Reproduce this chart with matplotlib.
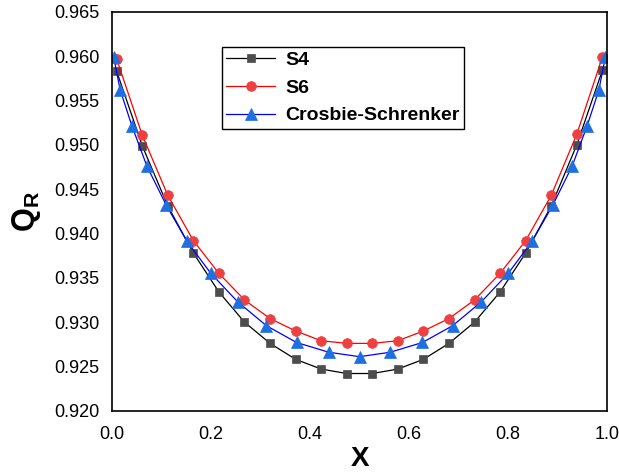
import matplotlib
matplotlib.use("Agg")
import matplotlib.pyplot as plt
import numpy as np

plt.rcParams['font.family'] = ['Liberation Sans', 'DejaVu Sans']
plt.rcParams['mathtext.fontset'] = 'custom'
plt.rcParams['mathtext.rm'] = 'Liberation Sans'
plt.rcParams['mathtext.bf'] = 'Liberation Sans:bold'

# S4 and S6 positions (20 points)
x_s = [0.010, 0.0616, 0.1132, 0.1647, 0.2163, 0.2679, 0.3195, 0.3711, 0.4226, 0.4742,
       0.5258, 0.5774, 0.6289, 0.6805, 0.7321, 0.7837, 0.8353, 0.8868, 0.9384, 0.990]
s4 = [0.9583, 0.9499, 0.9431, 0.9378, 0.9334, 0.9300, 0.9276, 0.9258, 0.9247, 0.9242,
      0.9242, 0.9247, 0.9258, 0.9276, 0.9300, 0.9334, 0.9378, 0.9431, 0.9500, 0.9584]
s6 = [0.9597, 0.9511, 0.9443, 0.9392, 0.9355, 0.9325, 0.9304, 0.9290, 0.9279, 0.9276,
      0.9276, 0.9279, 0.9290, 0.9304, 0.9325, 0.9355, 0.9392, 0.9443, 0.9512, 0.9599]
# Crosbie-Schrenker (23 points)
x_cs = [0.004, 0.017, 0.041, 0.071, 0.110, 0.152, 0.200, 0.254, 0.312, 0.373, 0.438, 0.500,
        0.562, 0.627, 0.688, 0.746, 0.800, 0.848, 0.890, 0.929, 0.959, 0.983, 0.996]
cs = [0.9599, 0.9562, 0.9521, 0.9476, 0.9432, 0.9391, 0.9355, 0.9323, 0.9296, 0.9277, 0.9266, 0.9261,
      0.9266, 0.9277, 0.9296, 0.9323, 0.9355, 0.9391, 0.9432, 0.9476, 0.9521, 0.9562, 0.9599]

xticks = [0.0, 0.2, 0.4, 0.6, 0.8, 1.0]
yticks = [0.920, 0.925, 0.930, 0.935, 0.940, 0.945, 0.950, 0.955, 0.960, 0.965]

fig = plt.figure(figsize=(6.19, 4.74), dpi=100)
ax = fig.add_axes([0.1805, 0.1335, 0.8006, 0.8412])

ax.plot(x_s, s4, color='black', lw=0.9, marker='s', ms=6.3, mfc='#4d4d4d', mec='#4d4d4d',
        mew=0.5, label='S4')
ax.plot(x_s, s6, color='#ff0000', lw=0.9, marker='o', ms=7.0, mfc='#ee4040', mec='#ee4040',
        mew=0.5, label='S6')
ax.plot(x_cs, cs, color='#0000ff', lw=0.9, marker='^', ms=8.5, mfc='#1f6fe0', mec='#1f6fe0',
        mew=0.5, label='Crosbie-Schrenker')

ax.set_xlim(0.0, 1.0)
ax.set_ylim(0.920, 0.965)
ax.set_xticks(xticks)
ax.set_xticklabels([f'{v:.1f}' for v in xticks])
ax.set_yticks(yticks)
ax.set_yticklabels([f'{v:.3f}' for v in yticks])
ax.tick_params(length=0, labelsize=13)
ax.tick_params(axis='x', pad=11)
ax.tick_params(axis='y', pad=9)
for s in ax.spines.values():
    s.set_linewidth(1.2)
    s.set_color('black')

ax.set_xlabel('X', fontsize=20, fontweight='bold', labelpad=2)
ax.set_ylabel(r'$\mathbf{Q_R}$', fontsize=22, labelpad=8)

leg = ax.legend(loc='upper left', bbox_to_anchor=(0.2226, 0.912), prop={'weight': 'bold', 'size': 14},
                frameon=True, fancybox=False, edgecolor='black', framealpha=1,
                handlelength=2.5, borderpad=0.22, labelspacing=0.52, handletextpad=0.55,
                borderaxespad=0)
leg.get_frame().set_linewidth(1.0)

fig.savefig('out.png', dpi=100)
